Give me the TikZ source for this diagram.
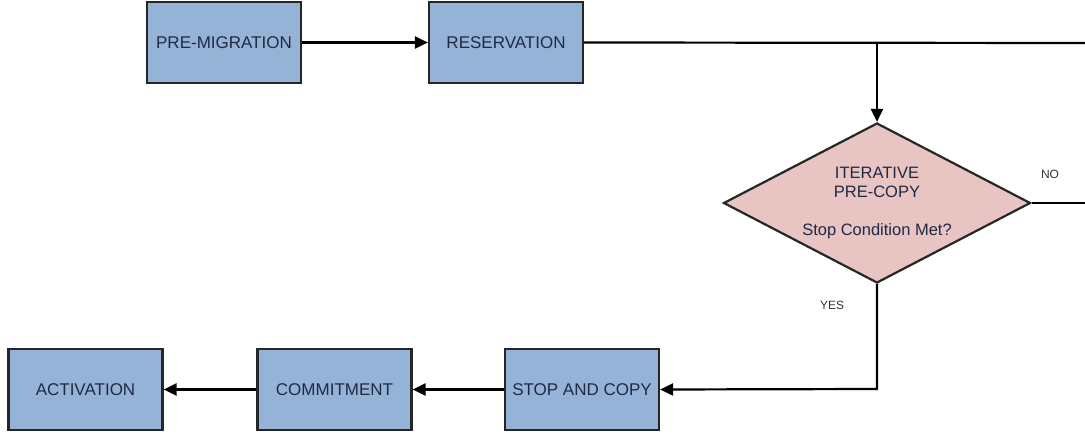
\documentclass[tikz,border=0pt]{standalone}
\usepackage{fontspec}
\setmainfont{Liberation Sans}
\usetikzlibrary{shapes.geometric,arrows.meta}
\definecolor{boxblue}{HTML}{95B3D7}
\definecolor{diapink}{HTML}{E8C4C2}
\definecolor{boxtext}{HTML}{1F2A44}
\definecolor{edgegray}{HTML}{262626}
\begin{document}
\begin{tikzpicture}[x=1pt,y=-1pt,
  stage/.style={draw=edgegray,line width=2.2pt,fill=boxblue,minimum width=154pt,
    minimum height=81pt,inner sep=0pt,text=boxtext,font=\fontsize{17}{19}\selectfont},
  decision/.style={draw=edgegray,line width=2.2pt,fill=diapink,shape=diamond,
    minimum width=307pt,minimum height=160pt,inner sep=0pt},
  decisiontext/.style={align=center,text=boxtext,font=\fontsize{16.5}{19}\selectfont},
  flow/.style={line width=2.2pt,draw=black},
  arrowflow/.style={flow,-{Triangle[length=13pt,width=12pt]}},
  branchlabel/.style={text=black!80,font=\fontsize{12}{14}\selectfont}]
  \useasboundingbox (0,0) rectangle (1085,436);

  % upper row
  \node[stage] (pre) at (224,42.5) {PRE-MIGRATION};
  \node[stage] (res) at (506,42.5) {RESERVATION};

  % decision
  \node[decision] (dec) at (877,203) {};
  \node[decisiontext] (dectxt) at (dec.center) {ITERATIVE\\PRE-COPY\\[19pt]Stop Condition Met?};

  % lower row
  \node[stage] (act) at (85.5,389.5) {ACTIVATION};
  \node[stage] (com) at (334.5,389.5) {COMMITMENT};
  \node[stage] (sac) at (582,389.5) {STOP AND COPY};

  % loose ends at the right border
  \coordinate (topend) at (1085,43);
  \coordinate (split) at (877,43);
  \coordinate (noend) at (1085,203);
  \coordinate (yescorner) at (877,389);

  % connectors
  \draw[arrowflow] (pre.east) -- (res.west);
  \draw[flow] (res.east) -- (topend);
  \draw[arrowflow] (split) -- (dec.north);
  \draw[flow] (dec.east) -- (noend);
  \draw[arrowflow] (dec.south) -- (yescorner) -- (sac.east);
  \draw[arrowflow] (sac.west) -- (com.east);
  \draw[arrowflow] (com.west) -- (act.east);

  % branch labels
  \node[branchlabel] (nolbl) at (1050,174) {NO};
  \node[branchlabel] (yeslbl) at (832,305) {YES};
\end{tikzpicture}
\end{document}
